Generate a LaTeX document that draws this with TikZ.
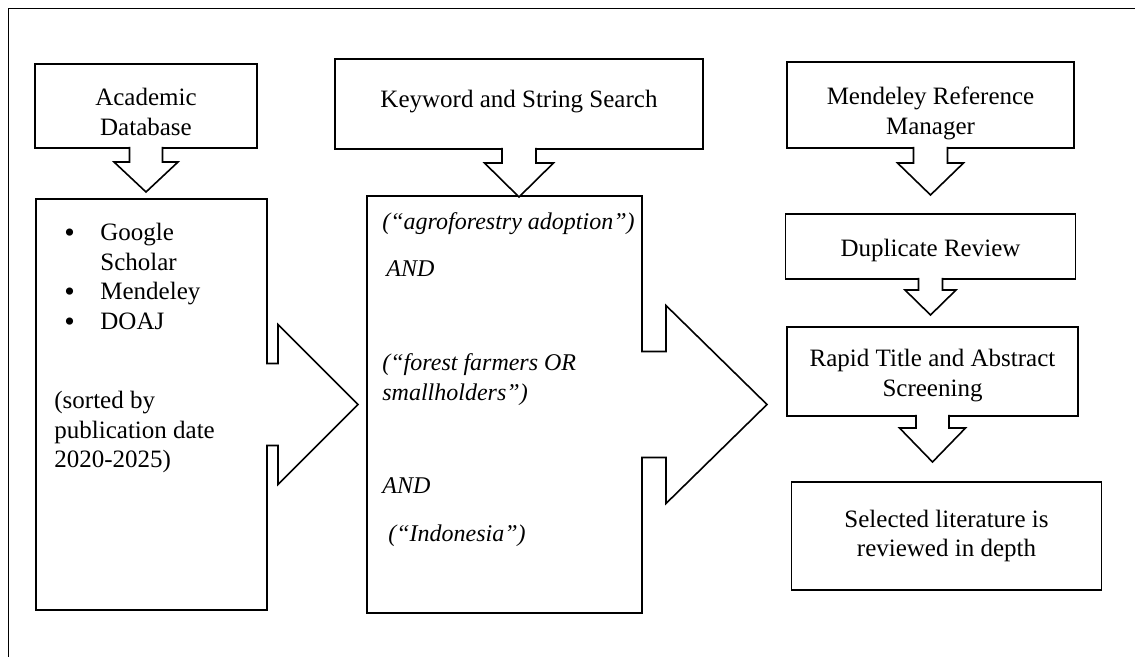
\documentclass[tikz,border=0pt]{standalone}
\usepackage{fontspec}
\setmainfont{Liberation Serif}
\usetikzlibrary{positioning,calc}

% block arrow down from a node: #1 node, #2 stem half width, #3 stem length, #4 head half width, #5 head length
\newcommand{\downblock}[5]{%
  \draw[blockarrow] ($(#1.south)+(-#2,-1)$) -- ($(#1.south)+(-#2,#3)$) -- ($(#1.south)+(-#4,#3)$)
    -- ($(#1.south)+(0,#3+#5)$) -- ($(#1.south)+(#4,#3)$) -- ($(#1.south)+(#2,#3)$) -- ($(#1.south)+(#2,-1)$);}
% block arrow to the right of a node
\newcommand{\rightblock}[5]{%
  \draw[blockarrow] ($(#1.east)+(-1,-#2)$) -- ($(#1.east)+(#3,-#2)$) -- ($(#1.east)+(#3,-#4)$)
    -- ($(#1.east)+(#3+#5,0)$) -- ($(#1.east)+(#3,#4)$) -- ($(#1.east)+(#3,#2)$) -- ($(#1.east)+(-1,#2)$);}
\newcommand{\bigdot}{\makebox[18pt][l]{\raisebox{-1pt}[0pt][0pt]{\fontsize{15}{14}\selectfont\textbullet}}}

\begin{document}
\begin{tikzpicture}[x=0.5pt,y=-0.5pt]
\tikzstyle{box}=[draw,line width=0.8pt,outer sep=0pt,inner sep=2pt,align=center,font=\fontsize{12.5}{14.8}\selectfont]
\tikzstyle{txt}=[anchor=north west,inner sep=0pt,align=left,font=\fontsize{12.5}{14.8}\selectfont]
\tikzstyle{blockarrow}=[fill=white,line width=0.8pt,line join=miter]

\useasboundingbox (0,0) rectangle (1135,657);
\draw[line width=0.5pt] (8,657) -- (8,9) -- (1135,9);

% left column
\node[box,minimum width=111pt,minimum height=42pt] (acad) at (146,106) {\rule{0pt}{14.5pt}Academic\\Database};
\node[box,minimum width=115.5pt,minimum height=205.5pt] (dblist) at (151.5,404.5) {};
\node[txt] (dbnames) at ($(dblist.north west)+(28,24)$)
  {\bigdot Google\\\hspace{18pt}Scholar\\
   \bigdot Mendeley\\\bigdot DOAJ};
\node[txt] (dbsort) at ($(dblist.north west)+(18,192)$)
  {(sorted by\\publication date\\2020-2025)};

% middle column
\node[box,minimum width=184pt,minimum height=45pt] (kw) at (519,104) {\rule[-5.6pt]{0pt}{5.6pt}Keyword and String Search};
\node[box,minimum width=137.5pt,minimum height=208.5pt] (search) at (504.5,404.5) {};
\node[txt,font=\fontsize{12}{14.8}\selectfont\itshape] (terms) at ($(search.north west)+(15,16)$)
  {(“agroforestry adoption”)\\[9pt]
   \hspace{2pt}AND\\[32pt]
   (“forest farmers OR\\
   smallholders”)\\[32pt]
   AND\\[9pt]
   \hspace{3pt}(“Indonesia”)};

% right column
\node[box,minimum width=143.5pt,minimum height=43pt] (mend) at (930.5,105) {\rule{0pt}{17.5pt}Mendeley Reference\\Manager};
\node[box,minimum width=145pt,minimum height=32.5pt,below=33pt of mend] (dup) {\rule{0pt}{12.5pt}Duplicate Review};
\node[box,minimum width=145.5pt,minimum height=44.5pt,below=24pt of dup,xshift=1pt] (rapid) {\rule{0pt}{12.5pt}Rapid Title and Abstract\\Screening};
\node[box,minimum width=155pt,minimum height=54pt,below=33pt of rapid,xshift=7pt] (sel) {Selected literature is\\reviewed in depth};

% block arrows
\downblock{acad}{16.5}{14}{32}{30}
\downblock{kw}{17}{14}{34.5}{34}
\downblock{mend}{17}{15}{33}{32}
\downblock{dup}{12}{11}{25.5}{25}
\downblock{rapid}{16.5}{12}{33}{34}
\rightblock{dblist}{41}{11}{80}{80}
\rightblock{search}{53}{24}{99}{101}
\end{tikzpicture}
\end{document}
